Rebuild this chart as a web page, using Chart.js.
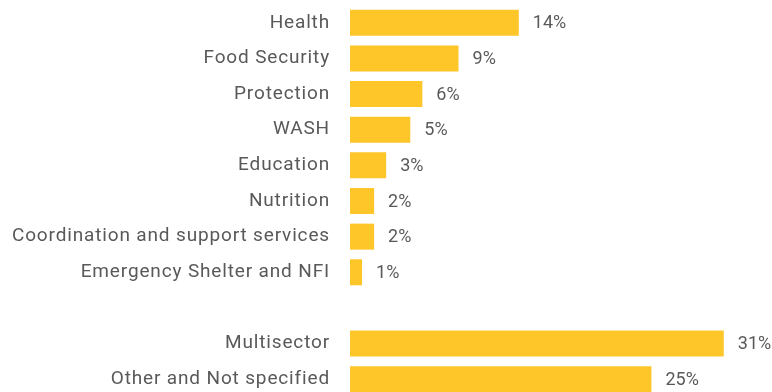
<!DOCTYPE html>
<html>
<head>
<meta charset="utf-8">
<script src="https://cdn.jsdelivr.net/npm/chart.js@4/dist/chart.umd.min.js"></script>
<style>
  html, body { margin: 0; padding: 0; background: #fff; overflow: hidden; }
  #wrap { width: 772px; height: 397px; position: relative; }
</style>
</head>
<body>
<div id="wrap"><canvas id="sectorChart"></canvas></div>
<script>
// funding share by sector, in percent (empty row separates the two groups)
const sectors = [
    'Health',
    'Food Security',
    'Protection',
    'WASH',
    'Education',
    'Nutrition',
    'Coordination and support services',
    'Emergency Shelter and NFI',
    '',
    'Multisector',
    'Other and Not specified'
];
const shares = [14, 9, 6, 5, 3, 2, 2, 1, null, 31, 25];

const barColor = '#FFC629';
const textColor = '#595959';
const fontFamily = 'Roboto, "Noto Sans", sans-serif';

// the sector names are set a little loose
const tracking = {
    id: 'tracking',
    beforeDraw(chart) {
        chart.ctx.letterSpacing = '0.85px';
    }
};

// writes "NN%" just past the end of every bar
const valueLabels = {
    id: 'valueLabels',
    afterDatasetsDraw(chart) {
        const ctx = chart.ctx;
        const meta = chart.getDatasetMeta(0);
        ctx.save();
        ctx.letterSpacing = '0px';
        ctx.font = '18px ' + fontFamily;
        ctx.fillStyle = textColor;
        ctx.textAlign = 'left';
        ctx.textBaseline = 'middle';
        meta.data.forEach(function(bar, i) {
            const v = shares[i];
            if (v === null) return;
            ctx.fillText(v + '%', bar.x + 14, bar.y + 1);
        });
        ctx.restore();
    }
};

new Chart(document.getElementById('sectorChart'), {
    type: 'bar',
    data: {
        labels: sectors,
        datasets: [{
            data: shares,
            backgroundColor: barColor,
            borderWidth: 0,
            barPercentage: 0.73,
            categoryPercentage: 1
        }]
    },
    options: {
        indexAxis: 'y',
        responsive: true,
        maintainAspectRatio: false,
        animation: false,
        layout: { padding: { top: 5, right: 0, bottom: 0, left: 0 } },
        plugins: {
            legend: { display: false },
            tooltip: { enabled: false }
        },
        scales: {
            x: {
                display: false,
                min: 0,
                max: 35
            },
            y: {
                grid: { display: false, drawTicks: false },
                border: { display: false },
                afterFit(scale) {
                    scale.width = 350;
                    scale.paddingTop = 0;
                    scale.paddingBottom = 0;
                },
                ticks: {
                    padding: 20,
                    color: textColor,
                    font: { family: fontFamily, size: 19 }
                }
            }
        }
    },
    plugins: [tracking, valueLabels]
});
</script>
</body>
</html>
